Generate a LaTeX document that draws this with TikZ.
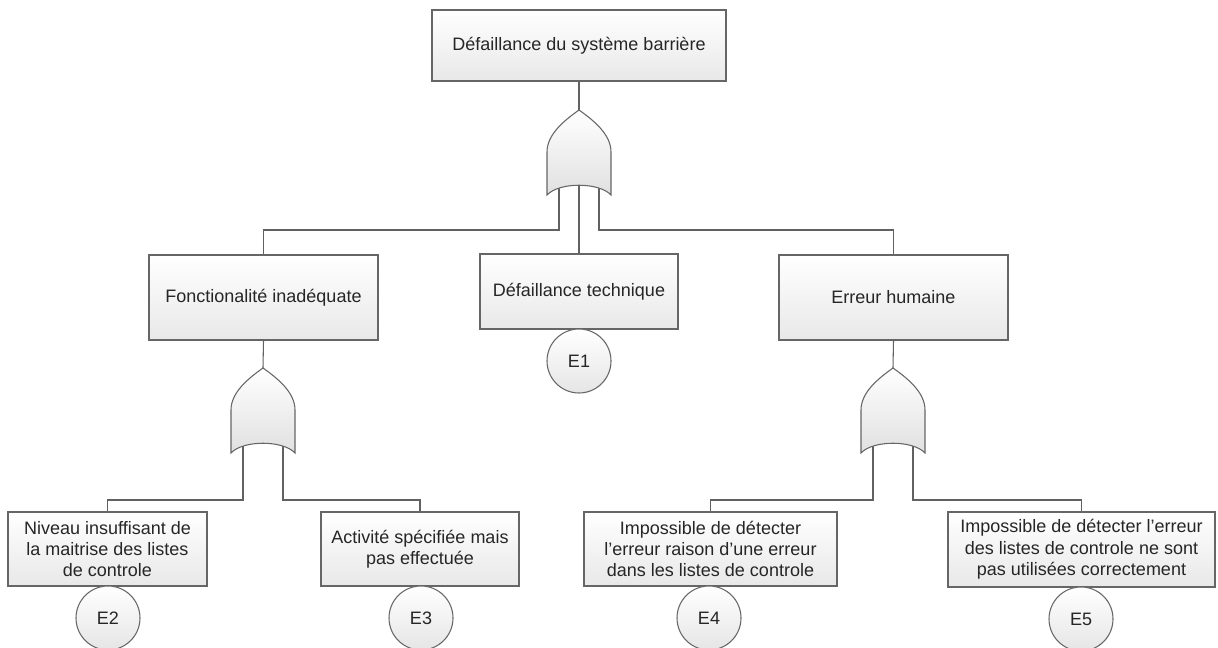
\documentclass[tikz,border=0pt]{standalone}
\usepackage{fontspec}
\setmainfont{Liberation Sans}
\usetikzlibrary{calc}
\begin{document}
\begin{tikzpicture}[x=0.75pt,y=-0.75pt,
  wire/.style={draw=black!62, line width=0.8pt},
  evbox/.style={rectangle, draw=black!60, line width=0.8pt,
    top color=white, bottom color=black!9, text=black!85,
    align=center, inner sep=1pt,
    font=\fontsize{13.5pt}{16pt}\selectfont},
  basic/.style={circle, draw=black!60, line width=0.8pt,
    top color=white, bottom color=black!10, text=black!85,
    minimum size=64*0.75pt, inner sep=0pt,
    font=\fontsize{13.5pt}{16pt}\selectfont},
  gateshape/.style={draw=black!60, line width=0.8pt,
    top color=white, bottom color=black!12},
  orgate/.pic={
    \path[gateshape] (0,0) .. controls (14,10) and (32,24) .. (32,42)
      -- (32,85) .. controls (20,72) and (-20,72) .. (-32,85)
      -- (-32,42) .. controls (-32,24) and (-14,10) .. (0,0) -- cycle;
  }
]
\useasboundingbox (0,0) rectangle (1218,648);
\clip (0,0) rectangle (1218,648);
\fill[white] (0,0) rectangle (1218,648);

% events
\node[evbox, minimum width=294*0.75pt, minimum height=71*0.75pt] (top) at (579,45.5)
  {Défaillance du système barrière};
\node[evbox, minimum width=229*0.75pt, minimum height=85*0.75pt] (fonc) at (263.5,297.5)
  {Fonctionalité inadéquate};
\node[evbox, minimum width=198*0.75pt, minimum height=75*0.75pt] (tech) at (579,291.5)
  {Défaillance technique};
\node[evbox, minimum width=229*0.75pt, minimum height=85*0.75pt] (err) at (893.5,297.5)
  {Erreur humaine};
\node[evbox, minimum width=199*0.75pt, minimum height=74*0.75pt] (niv) at (107.5,549)
  {Niveau insuffisant de\\la maitrise des listes\\de controle};
\node[evbox, minimum width=198*0.75pt, minimum height=74*0.75pt] (act) at (420,549)
  {Activité spécifiée mais\\pas effectuée};
\node[evbox, minimum width=253*0.75pt, minimum height=74*0.75pt] (imp1) at (710.5,549)
  {Impossible de détecter\\l'erreur raison d'une erreur\\dans les listes de controle};
\node[evbox, minimum width=267*0.75pt, minimum height=75*0.75pt] (imp2) at (1081.5,549.5)
  {Impossible de détecter l'erreur\\des listes de controle ne sont\\pas utilisées correctement};

% basic events
\node[basic] (e1) at (579,361) {E1};
\node[basic] (e2) at (108,618) {E2};
\node[basic] (e3) at (421,618) {E3};
\node[basic] (e4) at (709,618) {E4};
\node[basic] (e5) at (1081,619) {E5};

% gate tips and input points
\coordinate (g0) at (579,110);
\coordinate (g1) at (263,368);
\coordinate (g2) at (893,368);
\foreach \g in {g0,g1,g2}{
  \coordinate (\g l) at ($(\g)+(-20,70)$);
  \coordinate (\g c) at ($(\g)+(0,70)$);
  \coordinate (\g r) at ($(\g)+(20,70)$);
}
\coordinate (bus0) at (0,230);
\coordinate (bus1) at (0,500);

% connectors
\draw[wire] (top.south) -- (g0);
\draw[wire] (g0l) -- (g0l |- bus0) -| (fonc.north);
\draw[wire] (g0c) -- (tech.north);
\draw[wire] (g0r) -- (g0r |- bus0) -| (err.north);
\draw[wire] (fonc.south) -- (g1);
\draw[wire] (g1l) -- (g1l |- bus1) -| (niv.north);
\draw[wire] (g1r) -- (g1r |- bus1) -| (act.north);
\draw[wire] (err.south) -- (g2);
\draw[wire] (g2l) -- (g2l |- bus1) -| (imp1.north);
\draw[wire] (g2r) -- (g2r |- bus1) -| (imp2.north);

% OR gates
\pic at (g0) {orgate};
\pic at (g1) {orgate};
\pic at (g2) {orgate};
\end{tikzpicture}
\end{document}
